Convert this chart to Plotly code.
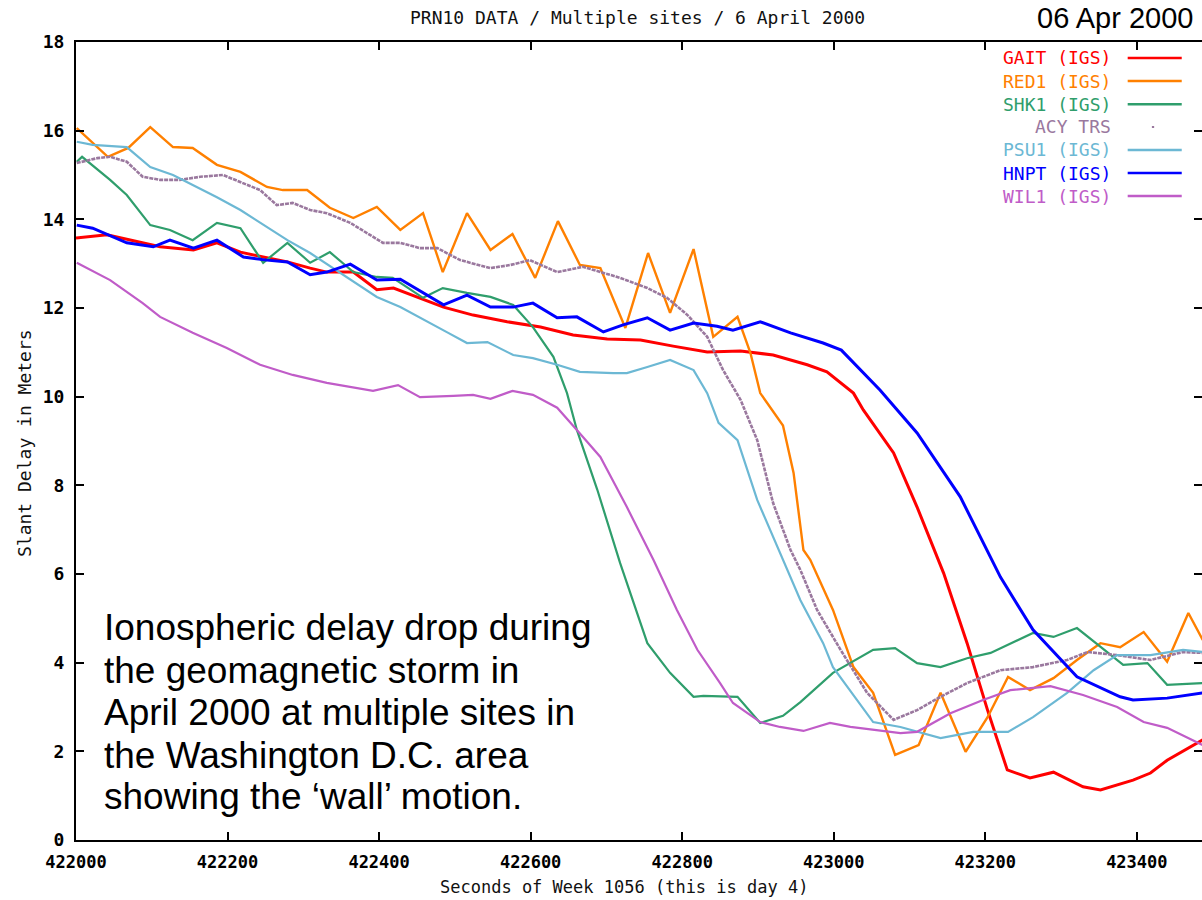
import plotly.graph_objects as go

# Seconds of week 1056 and slant delay (m) for each site, PRN10, 6 April 2000
gait_x = [422000, 422041, 422111, 422155, 422186, 422217, 422247, 422279, 422309, 422331,
          422366, 422397, 422419, 422454, 422485, 422524, 422569, 422613, 422656, 422701,
          422745, 422788, 422833, 422877, 422920, 422965, 422991, 423026, 423039, 423079,
          423110, 423145, 423176, 423203, 423229, 423259, 423290, 423329, 423352, 423395,
          423418, 423440, 423487]
gait_y = [13.58, 13.65, 13.38, 13.31, 13.47, 13.26, 13.15, 13.04, 12.90, 12.81,
          12.81, 12.41, 12.45, 12.23, 12.02, 11.84, 11.69, 11.57, 11.39, 11.30,
          11.28, 11.14, 11.01, 11.03, 10.94, 10.72, 10.56, 10.08, 9.70, 8.73,
          7.51, 6.02, 4.44, 2.93, 1.58, 1.40, 1.53, 1.20, 1.13, 1.35,
          1.51, 1.80, 2.26]

red1_x = [422001, 422042, 422069, 422098, 422128, 422154, 422186, 422217, 422252, 422273,
          422305, 422335, 422366, 422397, 422428, 422458, 422484, 422516, 422547, 422576,
          422606, 422636, 422665, 422692, 422725, 422755, 422784, 422815, 422841, 422873,
          422890, 422903, 422933, 422947, 422960, 422969, 422999, 423026, 423052, 423081,
          423112, 423141, 423174, 423203, 423230, 423259, 423290, 423321, 423352, 423378,
          423409, 423440, 423468, 423487]
red1_y = [16.06, 15.41, 15.61, 16.08, 15.63, 15.61, 15.23, 15.07, 14.73, 14.66,
          14.66, 14.26, 14.03, 14.28, 13.76, 14.14, 12.81, 14.14, 13.31, 13.67,
          12.68, 13.96, 12.97, 12.90, 11.55, 13.24, 11.89, 13.33, 11.35, 11.80,
          10.99, 10.08, 9.35, 8.28, 6.54, 6.32, 5.19, 3.90, 3.32, 1.92,
          2.14, 3.32, 1.99, 2.77, 3.68, 3.38, 3.65, 4.06, 4.44, 4.35,
          4.69, 4.02, 5.12, 4.51]

shk1_x = [422001, 422008, 422045, 422067, 422098, 422124, 422154, 422186, 422217, 422247,
          422279, 422309, 422335, 422366, 422397, 422418, 422458, 422484, 422516, 422547,
          422577, 422603, 422630, 422648, 422661, 422688, 422718, 422754, 422784, 422815,
          422828, 422873, 422903, 422933, 422956, 422982, 422999, 423052, 423081, 423110,
          423141, 423176, 423207, 423263, 423290, 423321, 423352, 423382, 423414, 423440,
          423487]
shk1_y = [15.30, 15.41, 14.89, 14.55, 13.87, 13.76, 13.53, 13.92, 13.80, 13.02,
          13.47, 13.02, 13.26, 12.81, 12.70, 12.68, 12.23, 12.45, 12.34, 12.25,
          12.07, 11.57, 10.90, 10.08, 9.25, 7.90, 6.25, 4.44, 3.77, 3.23,
          3.25, 3.23, 2.64, 2.80, 3.11, 3.50, 3.77, 4.29, 4.33, 3.99,
          3.90, 4.10, 4.22, 4.67, 4.58, 4.78, 4.35, 3.95, 3.99, 3.50,
          3.54]

acy_x = [422001, 422028, 422045, 422067, 422088, 422111, 422137, 422164, 422194, 422220,
         422243, 422265, 422286, 422309, 422331, 422362, 422384, 422405, 422428, 422454,
         422477, 422507, 422547, 422573, 422599, 422635, 422669, 422692, 422718, 422754,
         422780, 422807, 422833, 422854, 422877, 422899, 422920, 422943, 422956, 422978,
         423009, 423044, 423079, 423110, 423141, 423176, 423220, 423263, 423308, 423335,
         423374, 423418, 423461, 423487]
acy_y = [15.27, 15.38, 15.41, 15.30, 14.96, 14.89, 14.89, 14.96, 15.00, 14.82,
         14.66, 14.32, 14.37, 14.21, 14.14, 13.92, 13.69, 13.47, 13.47, 13.35,
         13.35, 13.08, 12.90, 12.97, 13.08, 12.81, 12.93, 12.81, 12.68, 12.45,
         12.23, 11.84, 11.35, 10.60, 9.93, 9.02, 7.60, 6.54, 6.09, 5.19,
         4.29, 3.32, 2.71, 2.93, 3.23, 3.54, 3.83, 3.90, 4.06, 4.24,
         4.17, 4.06, 4.24, 4.22]

psu1_x = [422001, 422022, 422067, 422098, 422128, 422154, 422186, 422217, 422243, 422279,
          422309, 422339, 422366, 422397, 422428, 422463, 422490, 422516, 422543, 422577,
          422603, 422635, 422665, 422709, 422727, 422754, 422784, 422815, 422833, 422848,
          422873, 422899, 422943, 422956, 422986, 422999, 423052, 423088, 423141, 423184,
          423230, 423263, 423308, 423343, 423374, 423418, 423461, 423487]
psu1_y = [15.75, 15.68, 15.63, 15.18, 15.00, 14.78, 14.50, 14.21, 13.92, 13.53,
          13.24, 12.90, 12.59, 12.25, 12.02, 11.69, 11.45, 11.21, 11.23, 10.94,
          10.87, 10.72, 10.56, 10.53, 10.53, 10.67, 10.83, 10.60, 10.08, 9.41,
          9.02, 7.67, 5.93, 5.41, 4.44, 3.90, 2.66, 2.55, 2.30, 2.44,
          2.44, 2.77, 3.32, 3.83, 4.17, 4.17, 4.29, 4.24]

hnpt_x = [422001, 422022, 422067, 422102, 422124, 422155, 422186, 422221, 422252, 422279,
          422309, 422331, 422362, 422397, 422428, 422485, 422516, 422547, 422577, 422603,
          422635, 422661, 422696, 422722, 422754, 422784, 422815, 422846, 422867, 422903,
          422943, 422986, 423010, 423035, 423061, 423110, 423167, 423220, 423263, 423321,
          423378, 423395, 423440, 423487]
hnpt_y = [13.87, 13.80, 13.47, 13.38, 13.53, 13.35, 13.53, 13.15, 13.08, 13.04,
          12.75, 12.81, 12.99, 12.63, 12.65, 12.07, 12.29, 12.02, 12.02, 12.11,
          11.78, 11.80, 11.46, 11.62, 11.78, 11.50, 11.66, 11.59, 11.50, 11.69,
          11.44, 11.21, 11.05, 10.60, 10.15, 9.18, 7.74, 5.93, 4.74, 3.68,
          3.23, 3.16, 3.20, 3.32]

wil1_x = [422001, 422045, 422088, 422111, 422154, 422199, 422243, 422286, 422331, 422371,
          422392, 422425, 422454, 422498, 422524, 422547, 422576, 422603, 422635, 422661,
          422692, 422727, 422762, 422793, 422820, 422850, 422867, 422903, 422929, 422960,
          422995, 423022, 423088, 423110, 423154, 423197, 423233, 423286, 423329, 423374,
          423409, 423440, 423487]
wil1_y = [13.02, 12.63, 12.11, 11.80, 11.44, 11.10, 10.72, 10.49, 10.31, 10.20,
          10.13, 10.26, 9.99, 10.02, 10.04, 9.95, 10.13, 10.04, 9.75, 9.25,
          8.64, 7.51, 6.32, 5.19, 4.29, 3.54, 3.09, 2.66, 2.55, 2.46,
          2.64, 2.55, 2.41, 2.44, 2.86, 3.16, 3.38, 3.47, 3.27, 3.00,
          2.66, 2.53, 2.14]

x_ticks = [422000, 422200, 422400, 422600, 422800, 423000, 423200, 423400]
y_ticks = [0, 2, 4, 6, 8, 10, 12, 14, 16, 18]

series = [
    ("GAIT (IGS)", gait_x, gait_y, "#ff0000", 3.0, "solid"),
    ("RED1 (IGS)", red1_x, red1_y, "#ff8000", 2.4, "solid"),
    ("SHK1 (IGS)", shk1_x, shk1_y, "#2f9e6c", 2.2, "solid"),
    ("ACY TRS", acy_x, acy_y, "#9a789e", 2.6, "4px,1px"),
    ("PSU1 (IGS)", psu1_x, psu1_y, "#6cb8d4", 2.2, "solid"),
    ("HNPT (IGS)", hnpt_x, hnpt_y, "#0000ff", 3.0, "solid"),
    ("WIL1 (IGS)", wil1_x, wil1_y, "#c05cc8", 2.2, "solid"),
]

MONO = "DejaVu Sans Mono"

fig = go.Figure()
for name, xs, ys, color, width, dash in series:
    fig.add_trace(go.Scatter(x=xs, y=ys, mode="lines", name=name,
                             line=dict(color=color, width=width, dash=dash),
                             showlegend=False))

# Key in the upper-right corner: coloured label, then a short line sample
row_y = [0.980, 0.951, 0.922, 0.8935, 0.8647, 0.8358, 0.807]
for (name, xs, ys, color, width, dash), ry in zip(series, row_y):
    fig.add_annotation(x=0.921, y=ry, xref="paper", yref="paper", text=name,
                       showarrow=False, xanchor="right", yanchor="middle",
                       font=dict(family=MONO, size=18, color=color))
    if name == "ACY TRS":
        fig.add_shape(type="line", xref="paper", yref="paper",
                      x0=0.9555, x1=0.9575, y0=ry, y1=ry,
                      line=dict(color=color, width=2))
    else:
        fig.add_shape(type="line", xref="paper", yref="paper",
                      x0=0.934, x1=0.982, y0=ry, y1=ry,
                      line=dict(color=color, width=2.5))

# Titles
fig.add_annotation(x=0.499, y=1.031, xref="paper", yref="paper",
                   text="PRN10 DATA / Multiple sites / 6 April 2000", showarrow=False,
                   xanchor="center", yanchor="middle",
                   font=dict(family=MONO, size=18, color="#111111"))
fig.add_annotation(x=0.994, y=1.030, xref="paper", yref="paper",
                   text="06 Apr 2000", showarrow=False,
                   xanchor="right", yanchor="middle",
                   font=dict(family="Liberation Sans", size=29, color="#000000"))
fig.add_annotation(x=-0.0453, y=0.4975, xref="paper", yref="paper",
                   text="Slant Delay in Meters", showarrow=False, textangle=-90,
                   xanchor="center", yanchor="middle",
                   font=dict(family=MONO, size=18, color="#111111"))
fig.add_annotation(x=0.4867, y=-0.0589, xref="paper", yref="paper",
                   text="Seconds of Week 1056 (this is day 4)", showarrow=False,
                   xanchor="center", yanchor="middle",
                   font=dict(family=MONO, size=17, color="#111111"))

# Caption inside the plot
caption = [
    "Ionospheric delay drop during",
    "the geomagnetic storm in",
    "April 2000 at multiple sites in",
    "the Washington D.C. area",
    "showing the \u2018wall\u2019 motion.",
]
caption_y = [0.2669, 0.2130, 0.1604, 0.1065, 0.0539]
for line, cy in zip(caption, caption_y):
    fig.add_annotation(x=0.023, y=cy, xref="paper", yref="paper", text=line,
                       showarrow=False, xanchor="left", yanchor="middle",
                       font=dict(family="Liberation Sans", size=37, color="#000000"))

fig.update_layout(
    width=1202, height=900,
    margin=dict(l=76, r=0, t=42, b=60),
    paper_bgcolor="white", plot_bgcolor="white",
    xaxis=dict(range=[422000, 423486], tickvals=x_ticks,
               ticktext=[str(v) for v in x_ticks],
               showgrid=False, zeroline=False,
               showline=True, linecolor="#000000", linewidth=2, mirror="ticks",
               ticks="inside", ticklen=8, tickwidth=2, tickcolor="#000000",
               ticklabelstandoff=6,
               tickfont=dict(family=MONO, size=17, color="#000000", weight="bold")),
    yaxis=dict(range=[0, 18], tickvals=y_ticks,
               showgrid=False, zeroline=False,
               showline=True, linecolor="#000000", linewidth=2,
               ticks="inside", ticklen=8, tickwidth=2, tickcolor="#000000",
               ticklabelstandoff=6,
               tickfont=dict(family=MONO, size=18, color="#000000", weight="bold")),
    yaxis2=dict(range=[0, 18], tickvals=y_ticks, overlaying="y", side="right",
                showgrid=False, zeroline=False, showline=False,
                ticks="inside", ticklen=8, tickwidth=2, tickcolor="#000000",
                showticklabels=False),
)
# invisible trace so the right-hand tick axis is drawn
fig.add_trace(go.Scatter(x=[gait_x[0]], y=[gait_y[0]], yaxis="y2", mode="lines",
                         line=dict(width=0), hoverinfo="skip", showlegend=False))

fig.write_html("out.html")
